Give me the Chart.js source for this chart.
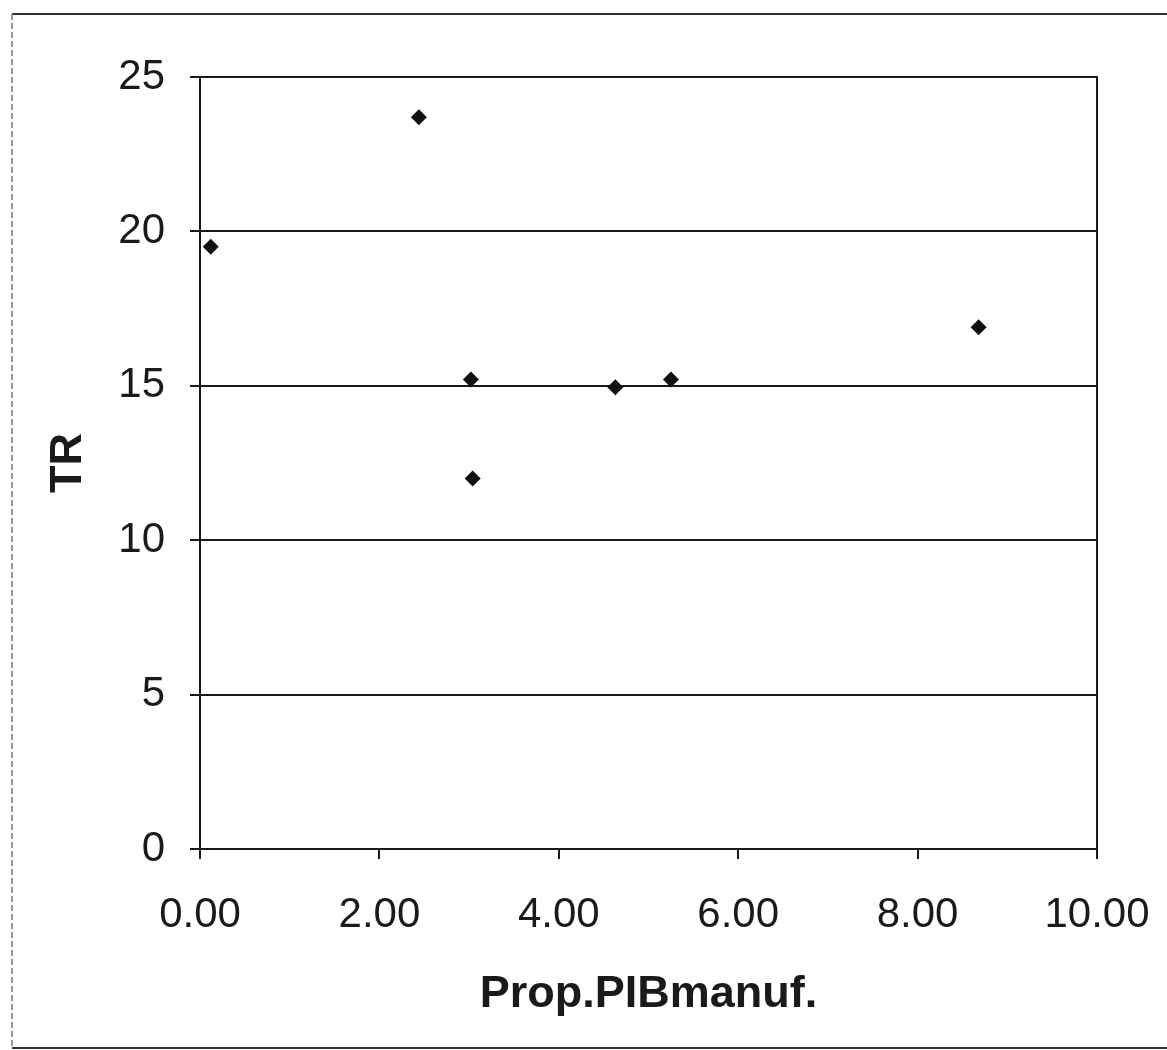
<!DOCTYPE html>
<html>
<head>
<meta charset="utf-8">
<script src="https://cdn.jsdelivr.net/npm/chart.js@4"></script>
<style>
  html, body { margin: 0; padding: 0; background: #fff; }
  #wrap { width: 1167px; height: 1050px; position: relative; }
</style>
</head>
<body>
<div id="wrap"><canvas id="chart"></canvas></div>
<script>
// values
var propPIBmanuf = [0.12, 2.44, 3.02, 3.04, 4.63, 5.25, 8.68];
var trValues = [19.5, 23.7, 15.2, 12.0, 14.95, 15.2, 16.9];
var xTitle = 'Prop.PIBmanuf.';
var yTitle = 'TR';

var points = propPIBmanuf.map(function(x, i) {
    return { x: x, y: trValues[i] };
});

var ink = '#1a1a1a';
var tickFont = { family: '"Liberation Sans", Arial, sans-serif', size: 42 };
var titleFont = { family: '"Liberation Sans", Arial, sans-serif', size: 45, weight: 'bold' };

// outer frame of the scanned figure + box round the plot area
var frames = {
    id: 'frames',
    beforeDraw: function(chart) {
        var ctx = chart.ctx;
        ctx.save();
        ctx.strokeStyle = '#333';
        ctx.lineWidth = 2;
        ctx.beginPath();
        ctx.moveTo(12, 14); ctx.lineTo(1167, 14);
        ctx.moveTo(12, 1048); ctx.lineTo(1167, 1048);
        ctx.stroke();
        ctx.strokeStyle = '#777';
        ctx.lineWidth = 1.5;
        ctx.setLineDash([6, 3]);
        ctx.beginPath();
        ctx.moveTo(12, 14); ctx.lineTo(12, 1048);
        ctx.stroke();
        ctx.restore();
    },
    afterDatasetsDraw: function(chart) {
        var a = chart.chartArea;
        var ctx = chart.ctx;
        ctx.save();
        ctx.strokeStyle = ink;
        ctx.lineWidth = 2;
        ctx.strokeRect(a.left, a.top, a.right - a.left, a.bottom - a.top);
        ctx.restore();
    }
};

var ctx = document.getElementById('chart').getContext('2d');
var scatter = new Chart(ctx, {
    type: 'scatter',
    data: {
        datasets: [{
            data: points,
            pointStyle: 'rectRot',
            pointRadius: 8,
            pointHoverRadius: 8,
            backgroundColor: '#111',
            borderColor: '#111',
            borderWidth: 0
        }]
    },
    options: {
        responsive: true,
        maintainAspectRatio: false,
        animation: false,
        layout: {
            padding: { left: 0, top: 77, right: 70, bottom: 0 }
        },
        plugins: {
            legend: { display: false },
            tooltip: { enabled: false }
        },
        scales: {
            x: {
                type: 'linear',
                min: 0,
                max: 10,
                afterFit: function(scale) {
                    scale.height = 201;
                    scale.paddingLeft = 0;
                    scale.paddingRight = 0;
                },
                ticks: {
                    stepSize: 2,
                    color: ink,
                    font: tickFont,
                    padding: 31,
                    maxRotation: 0,
                    callback: function(v) { return v.toFixed(2); }
                },
                grid: {
                    drawOnChartArea: false,
                    drawTicks: true,
                    tickLength: 10,
                    color: ink,
                    lineWidth: 2
                },
                border: { display: true, color: ink, width: 2 },
                title: {
                    display: true,
                    text: xTitle,
                    color: ink,
                    font: titleFont,
                    padding: { top: 0, bottom: 28 }
                }
            },
            y: {
                type: 'linear',
                min: 0,
                max: 25,
                afterFit: function(scale) {
                    scale.width = 200;
                    scale.paddingTop = 0;
                    scale.paddingBottom = 0;
                },
                ticks: {
                    stepSize: 5,
                    color: ink,
                    font: tickFont,
                    padding: 25
                },
                grid: {
                    drawOnChartArea: true,
                    drawTicks: true,
                    tickLength: 10,
                    color: ink,
                    lineWidth: 2
                },
                border: { display: true, color: ink, width: 2 },
                title: {
                    display: true,
                    text: yTitle,
                    color: ink,
                    font: titleFont,
                    padding: { top: 42, bottom: 0 }
                }
            }
        }
    },
    plugins: [frames]
});
</script>
</body>
</html>
